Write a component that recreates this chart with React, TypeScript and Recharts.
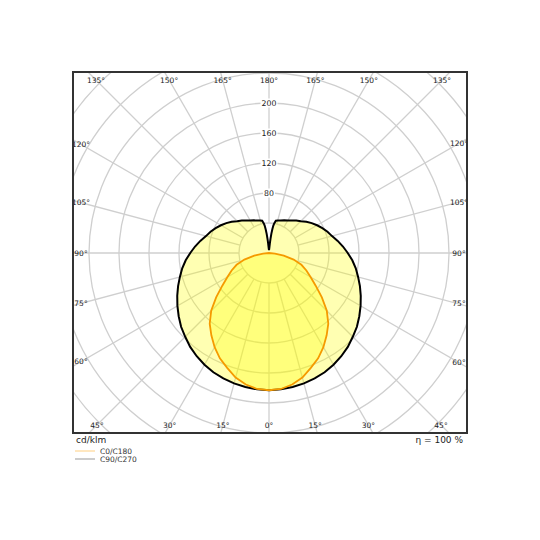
import React from 'react';
import { RadarChart, Radar, PolarGrid, PolarAngleAxis, PolarRadiusAxis } from 'recharts';

// gamma angles of the half profile (degrees, 0 = straight down)
const gammaAngles = [
  0, 5, 10, 15, 20, 25, 30, 35, 40, 45, 50, 55, 60, 65, 70, 75, 80, 85, 90,
  95, 100, 105, 110, 115, 120, 125, 130, 135, 140, 145, 150, 155, 160, 165,
  168, 170, 171, 172, 173, 174, 175, 176, 178, 180,
];

// C90/C270 plane (black outline), cd/klm
const c90Values = [
  183, 182.5, 181.5, 180, 178, 175.5, 172, 168, 163.5, 158, 153, 147, 141, 135, 129, 123, 117.5, 111.5, 105,
  99, 93, 87, 83, 78.5, 74, 69.5, 65, 60, 56.5, 53, 50, 48, 46, 45,
  44, 40, 37, 32, 26, 19, 13, 8, 5, 4,
];

// C0/C180 plane (orange outline), cd/klm
const c0Values = [
  183, 182, 178, 172, 163, 155, 145, 134, 123, 109, 92, 76, 64, 55, 46, 34, 20, 8, 0,
  0, 0, 0, 0, 0, 0, 0, 0, 0, 0, 0, 0, 0, 0, 0,
  0, 0, 0, 0, 0, 0, 0, 0, 0, 0,
];

const angleTicks = [0, 15, 30, 45, 60, 75, 90, 105, 120, 135, 150, 165, 180, 195, 210, 225, 240, 255, 270, 285, 300, 315, 330, 345];
const radiusTicks = [40, 80, 120, 160, 200, 240, 280, 320, 360];
const labelledRadii = [80, 120, 160, 200];

const legendNames = ['C0/C180', 'C90/C270'];

// full 360° table: right half (phi = gamma), left half mirrored (phi = 360 - gamma)
const tableData = [
  ...gammaAngles.map((g, i) => ({ phi: g, c0: c0Values[i], c90: c90Values[i] })),
  ...gammaAngles
    .map((g, i) => ({ phi: 360 - g, c0: c0Values[i], c90: c90Values[i] }))
    .slice(1, -1)
    .reverse(),
];

const W = 394;
const H = 361;
const CX = 196;
const CY = 181;
const OUTER = 270;
const SPOKE_INNER = 30;
const INSET = 8;
const FONT = 'DejaVu Sans, sans-serif';

const AngleTick = (props: any) => {
  const { payload, x, y, cx, cy } = props;
  const phi = payload.value as number;
  const a = (payload.coordinate * Math.PI) / 180;
  const dx = Math.cos(a);
  const dy = -Math.sin(a);
  const ox = typeof cx === 'number' ? cx : x - SPOKE_INNER * dx;
  const oy = typeof cy === 'number' ? cy : y - SPOKE_INNER * dy;
  const cand: number[] = [];
  if (Math.abs(dx) > 1e-9) cand.push(dx > 0 ? (W - INSET - ox) / dx : (INSET - ox) / dx);
  if (Math.abs(dy) > 1e-9) cand.push(dy > 0 ? (H - INSET - oy) / dy : (INSET - oy) / dy);
  const t = Math.min(...cand.filter((v) => v > 0));
  const lx = ox + t * dx;
  const ly = oy + t * dy;
  const g = phi <= 180 ? phi : 360 - phi;
  return (
    <text x={lx} y={ly} textAnchor="middle" dominantBaseline="central" fontSize={7.5} fill="#222" fontFamily={FONT}>
      {`${g}°`}
    </text>
  );
};

const RadiusTick = (props: any) => {
  const { x, y, payload } = props;
  if (!labelledRadii.includes(payload.value)) return <g />;
  const label = String(payload.value);
  const w = label.length * 5 + 2;
  return (
    <g>
      <rect x={x - w / 2} y={y - 4.5} width={w} height={9} fill="#fff" />
      <text x={x} y={y} textAnchor="middle" dominantBaseline="central" fontSize={7.8} fill="#222" fontFamily={FONT}>
        {label}
      </text>
    </g>
  );
};

export default function App() {
  const angleAxisExtra: any = { zIndex: -50 };
  return (
    <div style={{ position: 'absolute', left: 0, top: 0, width: 540, height: 540, background: '#fff', fontFamily: FONT }}>
      <div style={{ position: 'absolute', left: 73, top: 72, width: W, height: H, overflow: 'hidden' }}>
        <RadarChart
          width={W}
          height={H}
          cx={CX}
          cy={CY}
          outerRadius={OUTER}
          startAngle={-90}
          endAngle={270}
          data={tableData}
          margin={{ top: 0, right: 0, bottom: 0, left: 0 }}
        >
          <PolarGrid gridType="circle" radialLines={false} stroke="#cfcfcf" strokeWidth={1.3} />
          <PolarAngleAxis
            dataKey="phi"
            type="number"
            domain={[0, 360]}
            ticks={angleTicks}
            axisLine={false}
            orientation="inner"
            tickSize={OUTER - SPOKE_INNER}
            tickLine={{ stroke: '#cfcfcf', strokeWidth: 1.3 }}
            tick={(p: any) => <AngleTick {...p} />}
            {...angleAxisExtra}
          />
          <Radar
            dataKey="c90"
            name={legendNames[1]}
            stroke="#000"
            strokeWidth={2}
            fill="#ffff00"
            fillOpacity={0.3}
            dot={false}
            isAnimationActive={false}
          />
          <Radar
            dataKey="c0"
            name={legendNames[0]}
            stroke="#f59a00"
            strokeWidth={1.8}
            fill="#ffff00"
            fillOpacity={0.3}
            dot={false}
            isAnimationActive={false}
          />
          <PolarRadiusAxis
            angle={90}
            type="number"
            domain={[0, 360]}
            ticks={radiusTicks}
            axisLine={false}
            tickLine={false}
            tick={(p: any) => <RadiusTick {...p} />}
          />
        </RadarChart>
      </div>
      <svg width={540} height={540} style={{ position: 'absolute', left: 0, top: 0, pointerEvents: 'none' }}>
        <rect x={73} y={72} width={394} height={361} fill="none" stroke="#333" strokeWidth={2} />
        <text x={76} y={440} fontSize={9} fill="#222" dominantBaseline="central" fontFamily={FONT}>cd/klm</text>
        <text x={463} y={440} fontSize={9} fill="#222" dominantBaseline="central" textAnchor="end" fontFamily={FONT}>η = 100 %</text>
        <line x1={75} y1={451} x2={95} y2={451} stroke="#ffcf80" strokeWidth={1} />
        <text x={100} y={451} fontSize={7.5} fill="#333" dominantBaseline="central" fontFamily={FONT}>{legendNames[0]}</text>
        <line x1={75} y1={459} x2={95} y2={459} stroke="#999" strokeWidth={1} />
        <text x={100} y={459} fontSize={7.5} fill="#333" dominantBaseline="central" fontFamily={FONT}>{legendNames[1]}</text>
      </svg>
    </div>
  );
}
